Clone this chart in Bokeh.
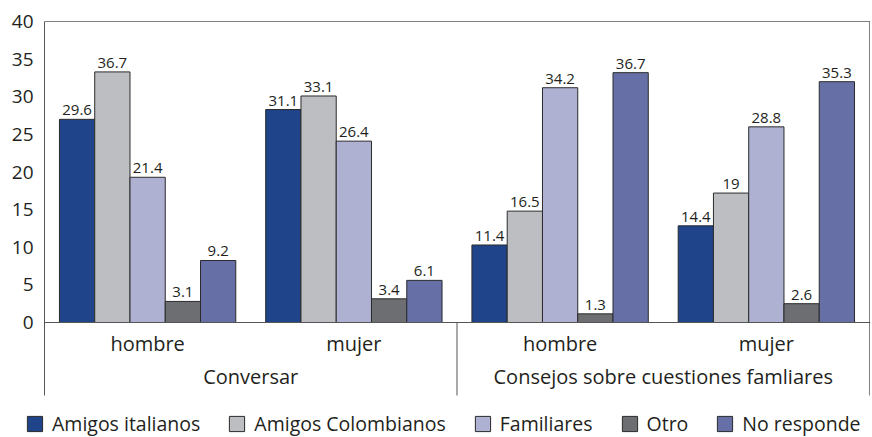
from bokeh.plotting import figure
from bokeh.layouts import column
from bokeh.models import ColumnDataSource, Range1d, FixedTicker, Span, Legend, LegendItem, Column
from bokeh.core.properties import value
from bokeh.embed import file_html
from bokeh.resources import INLINE

# ---- data ----
groups = ["Conversar", "Consejos sobre cuestiones famliares"]
subcats = ["hombre", "mujer", "hombre", "mujer"]
series = ["Amigos italianos", "Amigos Colombianos", "Familiares", "Otro", "No responde"]
colors = ["#1f4489", "#bdbec2", "#aeb1d2", "#6d6e71", "#6670a7"]

# printed value labels
lab_italianos = [29.6, 31.1, 11.4, 14.4]
lab_colombianos = [36.7, 33.1, 16.5, 19]
lab_familiares = [21.4, 26.4, 34.2, 28.8]
lab_otro = [3.1, 3.4, 1.3, 2.6]
lab_noresp = [9.2, 6.1, 36.7, 35.3]

# bar heights as drawn against the axis
h_italianos = [27.0, 28.3, 10.3, 12.85]
h_colombianos = [33.3, 30.1, 14.8, 17.2]
h_familiares = [19.3, 24.1, 31.2, 26.0]
h_otro = [2.8, 3.15, 1.15, 2.5]
h_noresp = [8.24, 5.6, 33.2, 32.0]

yticks = [0, 5, 10, 15, 20, 25, 30, 35, 40]

labels_all = [lab_italianos, lab_colombianos, lab_familiares, lab_otro, lab_noresp]
heights_all = [h_italianos, h_colombianos, h_familiares, h_otro, h_noresp]

FONT = "Open Sans"
TXT = "#231f20"
LINE = "#555555"
BORDER = "#808080"

p = figure(width=872, height=400, output_backend="svg", toolbar_location=None,
           x_range=Range1d(0, 4.005), y_range=Range1d(-10.365, 40.133),
           x_axis_type=None, min_border_left=44, min_border_right=2,
           min_border_top=20, min_border_bottom=0)
p.xgrid.visible = False
p.ygrid.visible = False
p.outline_line_color = None

# y axis
ya = p.yaxis[0]
ya.ticker = FixedTicker(ticks=yticks)
ya.bounds = (-9.7, 40)
ya.major_tick_out = 0
ya.major_tick_in = 0
ya.minor_tick_out = 0
ya.minor_tick_in = 0
ya.major_label_standoff = 11
ya.major_label_text_font = FONT
ya.major_label_text_font_size = "19px"
ya.major_label_text_color = TXT
ya.axis_line_color = LINE

n = len(subcats)
centers = [i + 0.5 for i in range(n)]
bw = 0.171
offsets = [(k - 2) * bw for k in range(len(series))]

for k, name in enumerate(series):
    xs = [c + offsets[k] for c in centers]
    src = ColumnDataSource(dict(x=xs, top=heights_all[k],
                                lab=[f"{v:g}" for v in labels_all[k]]))
    p.vbar(x="x", top="top", width=bw, source=src, fill_color=colors[k],
           line_color="#2b2b2b", line_width=1)
    p.text(x="x", y="top", text="lab", source=src, text_align="center",
           text_baseline="bottom", y_offset=-4, text_font=value(FONT),
           text_font_size="15px", text_color=TXT)

# frame lines
p.add_layout(Span(location=40, dimension="width", line_color=BORDER, line_width=1))
p.add_layout(Span(location=0, dimension="width", line_color=LINE, line_width=1))
p.segment(x0=[4.0], y0=[-9.7], x1=[4.0], y1=[40], line_color=BORDER, line_width=1)
p.segment(x0=[2.0], y0=[0], x1=[2.0], y1=[-9.7], line_color=LINE, line_width=1)

# category labels
p.text(x=centers, y=[-2.79] * n, text=subcats, text_align="center",
       text_baseline="middle", text_font=value(FONT), text_font_size="20px",
       text_color=TXT)
gcenters = [(centers[0] + centers[1]) / 2, (centers[2] + centers[3]) / 2]
p.text(x=gcenters, y=[-7.18] * 2, text=groups, text_align="center",
       text_baseline="middle", text_font=value(FONT), text_font_size="20px",
       text_color=TXT)

# ---- legend strip ----
lf = figure(width=872, height=37, output_backend="svg", toolbar_location=None,
            x_range=Range1d(0, 1), y_range=Range1d(0, 1),
            x_axis_type=None, y_axis_type=None,
            min_border_left=0, min_border_right=0, min_border_top=0, min_border_bottom=0)
lf.xgrid.visible = False
lf.ygrid.visible = False
lf.outline_line_color = None
items = []
for k, name in enumerate(series):
    # legend swatch carrier: a zero-size bar (only its style is used by the legend)
    r = lf.vbar(x=[0.5], bottom=[0.5], top=[0.5], width=0, fill_color=colors[k],
                line_color="#2b2b2b", line_width=1)
    items.append(LegendItem(label=name, renderers=[r]))
lg = Legend(items=items, orientation="horizontal", location=(25, 0),
            border_line_color=None, background_fill_alpha=0, padding=0, margin=0,
            spacing=27, glyph_width=19, glyph_height=19, label_standoff=8,
            label_text_font=FONT, label_text_font_size="19.5px",
            label_text_color=TXT, label_height=19)
lf.add_layout(lg, "center")

layout = column(p, Column(children=[lf]), spacing=0)
open("out.html", "w").write(file_html(layout, INLINE))
